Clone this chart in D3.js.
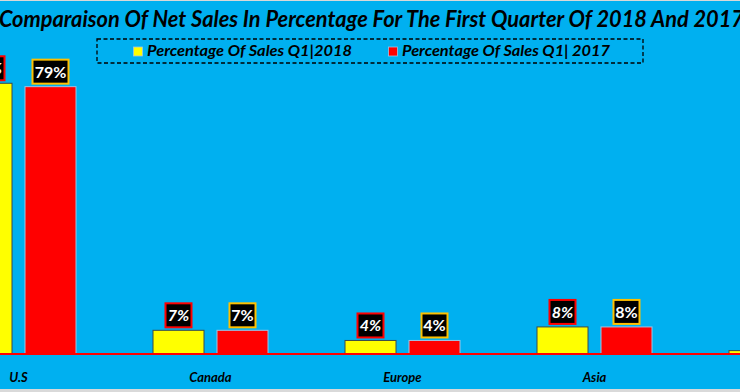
<!DOCTYPE html>
<html>
<head>
<meta charset="utf-8">
<script src="https://cdn.jsdelivr.net/npm/d3@7/dist/d3.min.js"></script>
<style>
  html, body { margin: 0; padding: 0; background: #d9d9d9; overflow: hidden; }
  svg { display: block; }
</style>
</head>
<body>
<svg id="chart" width="740" height="392"></svg>
<script>
const categories = ["U.S", "Canada", "Europe", "Asia", "Others"];
const seriesNames = ["Percentage Of Sales Q1|2018", "Percentage Of Sales Q1| 2017"];
const sales2018 = [80, 7, 4, 8, 1];
const sales2017 = [79, 7, 4, 8, 2];
const titleText = "Comparaison Of Net Sales In Percentage For The First Quarter Of 2018 And 2017";

const W = 740, H = 392;
const svg = d3.select("#chart");
const font = "Lato, 'Noto Sans', sans-serif";

svg.append("rect").attr("x", 0).attr("y", 1).attr("width", W).attr("height", 388).attr("fill", "#00B0F0");

const baseY = 354;
const y = d3.scaleLinear().domain([0, 90]).range([baseY, baseY - 90 * 3.384]);

const pad = 1 - 115 / 192;
const x0 = d3.scaleBand().domain(categories).range([-116, -116 + 192 * (5 + pad)]).paddingInner(pad).paddingOuter(pad);
const keys = ["2018", "2017"];
const x1 = d3.scaleBand().domain(keys).range([0, x0.bandwidth()]).paddingInner(13 / 64).paddingOuter(0);

const rows = categories.map((c, i) => ({ cat: c, vals: [
  { key: "2018", v: sales2018[i] },
  { key: "2017", v: sales2017[i] }
]}));

const fillC = { "2018": "#FFFF00", "2017": "#FF0000" };
const strokeC = { "2018": "#3b4a4a", "2017": "#9DC3E6" };
const labelBorder = { "2018": "#FF0000", "2017": "#FFC000" };

const g = svg.append("g");
const grp = g.selectAll("g.grp").data(rows).join("g").attr("class", "grp")
  .attr("transform", d => `translate(${x0(d.cat)},0)`);

grp.selectAll("rect.bar").data(d => d.vals).join("rect").attr("class", "bar")
  .attr("x", d => x1(d.key))
  .attr("y", d => y(d.v))
  .attr("width", x1.bandwidth())
  .attr("height", d => baseY - y(d.v))
  .attr("fill", d => fillC[d.key])
  .attr("stroke", d => strokeC[d.key])
  .attr("stroke-width", 1);

// axis line
const axis = d3.axisBottom(x0).tickSize(0).tickPadding(0);
const ax = svg.append("g").attr("transform", `translate(0,${baseY})`).call(axis);
ax.select(".domain").remove();
svg.append("line").attr("x1", 0).attr("x2", W).attr("y1", baseY).attr("y2", baseY)
  .attr("stroke", "#FF0000").attr("stroke-width", 2);
ax.selectAll(".tick text")
  .attr("y", 28)
  .attr("dy", 0)
  .attr("fill", "#000")
  .style("font-family", font)
  .style("font-size", "13px")
  .style("font-weight", "bold")
  .style("font-style", "italic");

// data labels
const lab = grp.selectAll("g.lab").data(d => d.vals).join("g").attr("class", "lab")
  .attr("transform", d => `translate(${x1(d.key) + x1.bandwidth() / 2},${y(d.v) - 3})`);
lab.append("rect")
  .attr("x", d => (d.v >= 10 ? -18 : -13))
  .attr("y", -24)
  .attr("width", d => (d.v >= 10 ? 36 : 26))
  .attr("height", 24)
  .attr("fill", "#000")
  .attr("stroke", d => labelBorder[d.key])
  .attr("stroke-width", 2);
lab.append("text")
  .attr("text-anchor", "middle")
  .attr("y", -6)
  .attr("fill", "#fff")
  .style("font-family", font)
  .style("font-size", "16px")
  .style("font-weight", "bold")
  .style("font-style", d => d.key === "2018" ? "italic" : "normal")
  .text(d => d.v + "%");

// title
svg.append("text")
  .attr("x", -1).attr("y", 27)
  .attr("textLength", 745).attr("lengthAdjust", "spacingAndGlyphs")
  .attr("fill", "#000")
  .style("font-family", font)
  .style("font-size", "22px")
  .style("font-weight", "bold")
  .style("font-style", "italic")
  .text(titleText);

// legend
const leg = svg.append("g");
leg.append("rect").attr("x", 97).attr("y", 39).attr("width", 546).attr("height", 24)
  .attr("fill", "none").attr("stroke", "#000").attr("stroke-width", 1.3).attr("stroke-dasharray", "4,2.5");
const legItems = [
  { key: "2018", name: seriesNames[0], sx: 133.5, tx: 147, tw: 205 },
  { key: "2017", name: seriesNames[1], sx: 388.5, tx: 402, tw: 208 }
];
legItems.forEach(it => {
  leg.append("rect").attr("x", it.sx).attr("y", 47).attr("width", 9).attr("height", 9)
    .attr("fill", fillC[it.key]).attr("stroke", "#9DC3E6").attr("stroke-width", 0.8);
  leg.append("text").attr("x", it.tx).attr("y", 56)
    .attr("textLength", it.tw).attr("lengthAdjust", "spacingAndGlyphs")
    .attr("fill", "#000")
    .style("font-family", font).style("font-size", "15px")
    .style("font-weight", "bold").style("font-style", "italic")
    .text(it.name);
});
</script>
</body>
</html>
